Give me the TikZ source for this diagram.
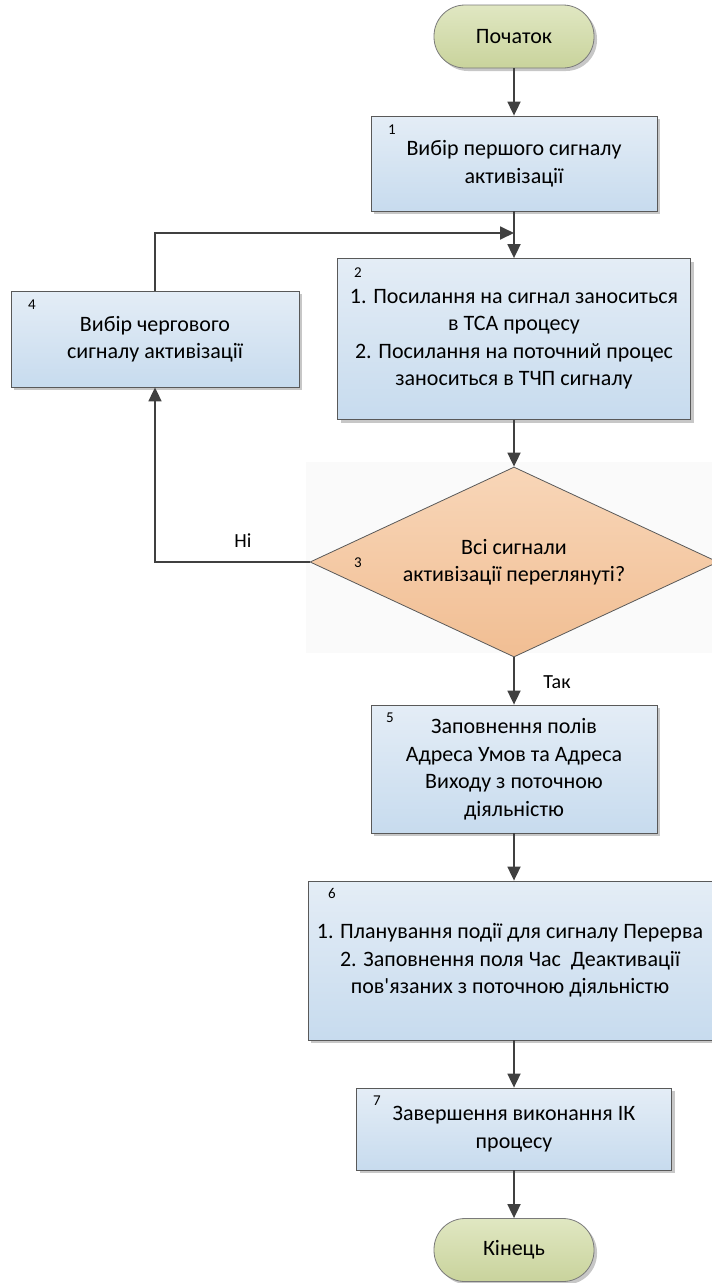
\documentclass[tikz,border=0pt]{standalone}
\usepackage{fontspec}
\setmainfont{Carlito}[Ligatures=TeXOff]
\usetikzlibrary{arrows.meta,shapes.geometric,shadows}

\definecolor{boxtop}{HTML}{E4EDF6}
\definecolor{boxbot}{HTML}{C7DBEE}
\definecolor{termtop}{HTML}{E0E7C2}
\definecolor{termbot}{HTML}{C9D39C}
\definecolor{diatop}{HTML}{F8D6B8}
\definecolor{diabot}{HTML}{F1BE93}
\definecolor{edge}{HTML}{595959}
\definecolor{wire}{HTML}{404040}

\tikzset{
  shade/.style={drop shadow={shadow xshift=3pt,shadow yshift=-3pt,fill=black!22,opacity=1}},
  procbox/.style={draw=edge, line width=0.8pt, top color=boxtop, bottom color=boxbot,
    shade, align=center, inner sep=0pt,
    font=\fontsize{22}{27.5}\selectfont},
  termbox/.style={draw=edge!80, line width=0.8pt, top color=termtop, bottom color=termbot,
    shade, rounded corners=31pt, minimum width=160pt, minimum height=63pt,
    inner sep=0pt, font=\fontsize{22}{26}\selectfont},
  decbox/.style={diamond, draw=edge, line width=0.8pt, top color=diatop, bottom color=diabot,
    aspect=2.15, minimum width=408pt, minimum height=190pt, inner sep=0pt,
    align=center, font=\fontsize{22}{27.5}\selectfont},
  numlbl/.style={font=\fontsize{15}{17}\selectfont, inner sep=0pt},
  flowlbl/.style={font=\fontsize{20}{22}\selectfont, inner sep=0pt},
  arr/.style={draw=wire, line width=1.8pt,
    -{Triangle[length=14pt,width=13pt]}}
}

\begin{document}
\begin{tikzpicture}[x=1pt,y=-1pt]
\useasboundingbox (0,0) rectangle (712,1283);

% faint backdrop behind the decision block
\fill[black!2] (306,462) rectangle (712,653);

% terminals
\node[termbox] (start) at (514,36.5) {Початок};
\node[termbox] (finish) at (514,1250) {Кінець};

% process blocks
\node[procbox, minimum width=286pt, minimum height=95pt] (b1) at (514,163.5)
  {Вибір першого сигналу\\активізації};
\node[procbox, minimum width=353pt, minimum height=161pt] (b2) at (514,339)
  {1. Посилання на сигнал заноситься\\в ТСА процесу\\2. Посилання на поточний процес\\заноситься в ТЧП сигналу};
\node[procbox, minimum width=288pt, minimum height=96pt] (b4) at (155,339)
  {Вибір чергового\\сигналу активізації};
\node[decbox] (dia) at (514,562)
  {Всі сигнали\\активізації переглянуті?};
\node[procbox, minimum width=286pt, minimum height=128pt] (b5) at (514,769)
  {Заповнення полів\\Адреса Умов та Адреса\\Виходу з поточною\\діяльністю};
\node[procbox, minimum width=404pt, minimum height=159pt] (b6) at (510,960.5)
  {1. Планування події для сигналу Перерва\\2. Заповнення поля Час\ \ Деактивації\\пов'язаних з поточною діяльністю};
\node[procbox, minimum width=315pt, minimum height=82pt] (b7) at (514,1129)
  {Завершення виконання ІК\\процесу};

% block numbers
\node[numlbl] (n1) at (392,130) {1};
\node[numlbl] (n2) at (358,273) {2};
\node[numlbl] (n4) at (32,305) {4};
\node[numlbl] (n3) at (358,563) {3};
\node[numlbl] (n5) at (390,718) {5};
\node[numlbl] (n6) at (332,893) {6};
\node[numlbl] (n7) at (377,1101) {7};

% connectors
\coordinate (join) at (514,233);
\draw[arr] (start) -- (b1);
\draw[arr] (b1) -- (b2);
\draw[arr] (b4.north) |- (join);
\draw[arr] (b2) -- (dia);
\draw[arr] (dia.west) -| (b4.south);
\draw[arr] (dia.south) -- (b5.north);
\draw[arr] (b5.south) -- (b5.south |- b6.north);
\draw[arr] (b7.north |- b6.south) -- (b7.north);
\draw[arr] (b7) -- (finish);

% branch labels
\node[flowlbl] (no) at (243,541) {Ні};
\node[flowlbl] (yes) at (557,682) {Так};
\end{tikzpicture}
\end{document}
